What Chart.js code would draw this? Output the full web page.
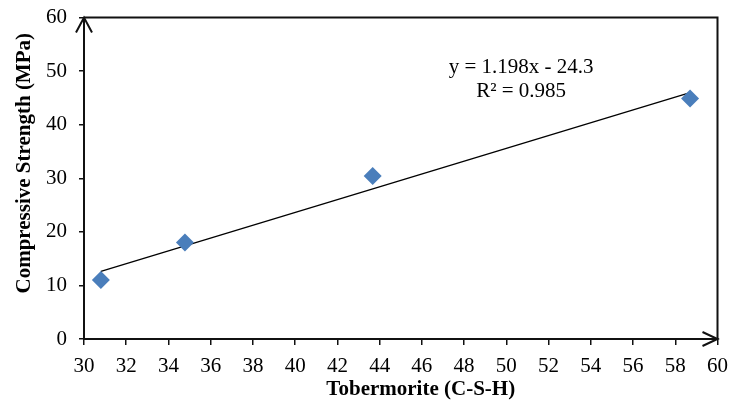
<!DOCTYPE html>
<html>
<head>
<meta charset="utf-8">
<title>Compressive strength vs Tobermorite</title>
<script src="https://cdn.jsdelivr.net/npm/chart.js@4.4.0/dist/chart.umd.min.js"></script>
<style>
  html, body { margin: 0; padding: 0; background: #fff; }
  #wrap { width: 731px; height: 403px; }
</style>
</head>
<body>
<div id="wrap"><canvas id="csChart"></canvas></div>
<script>
// =============== DATA ===============
const tobermorite = [30.8, 34.78, 43.67, 58.7];   // x values
const strength    = [11.0, 18.0, 30.4, 44.9];     // y values (MPa)
const trendX = [30.8, 58.7];                      // trend line ends
const trendY = [12.6, 46.0];
const equationText = 'y = 1.198x - 24.3';
const r2Text = 'R² = 0.985';
const xTitle = 'Tobermorite (C-S-H)';
const yTitle = 'Compressive Strength (MPa)';
// ====================================

const SERIF = '"Liberation Serif", "Times New Roman", serif';
const AXIS = '#111';

// Frame, arrows, titles and the equation label
const decorPlugin = {
  id: 'decor',
  afterDraw(chart) {
    const { ctx, chartArea: a, scales } = chart;
    ctx.save();
    ctx.strokeStyle = AXIS;
    ctx.lineWidth = 2;

    // top + right frame lines
    ctx.beginPath();
    ctx.moveTo(a.left, a.top);
    ctx.lineTo(a.right, a.top);
    ctx.lineTo(a.right, a.bottom);
    ctx.stroke();

    // arrow on y axis (top)
    ctx.beginPath();
    ctx.moveTo(a.left - 8, a.top + 15);
    ctx.lineTo(a.left, a.top);
    ctx.lineTo(a.left + 8, a.top + 15);
    ctx.stroke();

    // arrow on x axis (right)
    ctx.beginPath();
    ctx.moveTo(a.right - 15, a.bottom - 7);
    ctx.lineTo(a.right, a.bottom);
    ctx.lineTo(a.right - 15, a.bottom + 7);
    ctx.stroke();

    // equation text
    ctx.fillStyle = '#000';
    ctx.font = '21px ' + SERIF;
    ctx.textAlign = 'center';
    ctx.textBaseline = 'middle';
    const ex = scales.x.getPixelForValue(50.7);
    ctx.fillText(equationText, ex, scales.y.getPixelForValue(50.6));
    ctx.fillText(r2Text, ex, scales.y.getPixelForValue(46.1));

    // axis titles
    ctx.font = 'bold 21px ' + SERIF;
    ctx.fillText(xTitle, (a.left + a.right) / 2 + 20, 390);
    ctx.translate(25, (a.top + a.bottom) / 2 - 15);
    ctx.rotate(-Math.PI / 2);
    ctx.fillText(yTitle, 0, 0);
    ctx.restore();
  }
};

const tickFont = { family: SERIF, size: 21 };

new Chart(document.getElementById('csChart'), {
  type: 'scatter',
  data: {
    datasets: [
      {
        label: 'Data',
        data: tobermorite.map((x, i) => ({ x: x, y: strength[i] })),
        backgroundColor: '#4a7ebb',
        borderColor: '#4a7ebb',
        pointStyle: 'rectRot',
        pointRadius: 9,
        pointHoverRadius: 9,
        borderWidth: 0
      },
      {
        type: 'line',
        label: 'Linear trend',
        data: trendX.map((x, i) => ({ x: x, y: trendY[i] })),
        borderColor: '#000',
        borderWidth: 1.3,
        pointRadius: 0,
        fill: false,
        order: 2
      }
    ]
  },
  options: {
    responsive: true,
    maintainAspectRatio: false,
    animation: false,
    layout: { padding: { top: 17.5, right: 13.5, left: 0, bottom: 0 } },
    plugins: {
      legend: { display: false },
      tooltip: { enabled: false }
    },
    scales: {
      x: {
        type: 'linear',
        min: 30,
        max: 60,
        ticks: { stepSize: 2, color: '#000', font: tickFont, padding: 9, maxRotation: 0, autoSkip: false },
        grid: { drawOnChartArea: false, drawTicks: true, tickLength: 6, color: AXIS, lineWidth: 1.5 },
        border: { display: true, color: AXIS, width: 2 },
        afterFit(s) { s.height = 64; s.paddingLeft = 0; s.paddingRight = 0; }
      },
      y: {
        min: 0,
        max: 60,
        ticks: { stepSize: 10, color: '#000', font: tickFont, padding: 12 },
        grid: { drawOnChartArea: false, drawTicks: true, tickLength: 5, color: AXIS, lineWidth: 1.5 },
        border: { display: true, color: AXIS, width: 2 },
        afterFit(s) { s.width = 84; s.paddingTop = 0; s.paddingBottom = 0; }
      }
    }
  },
  plugins: [decorPlugin]
});
</script>
</body>
</html>
